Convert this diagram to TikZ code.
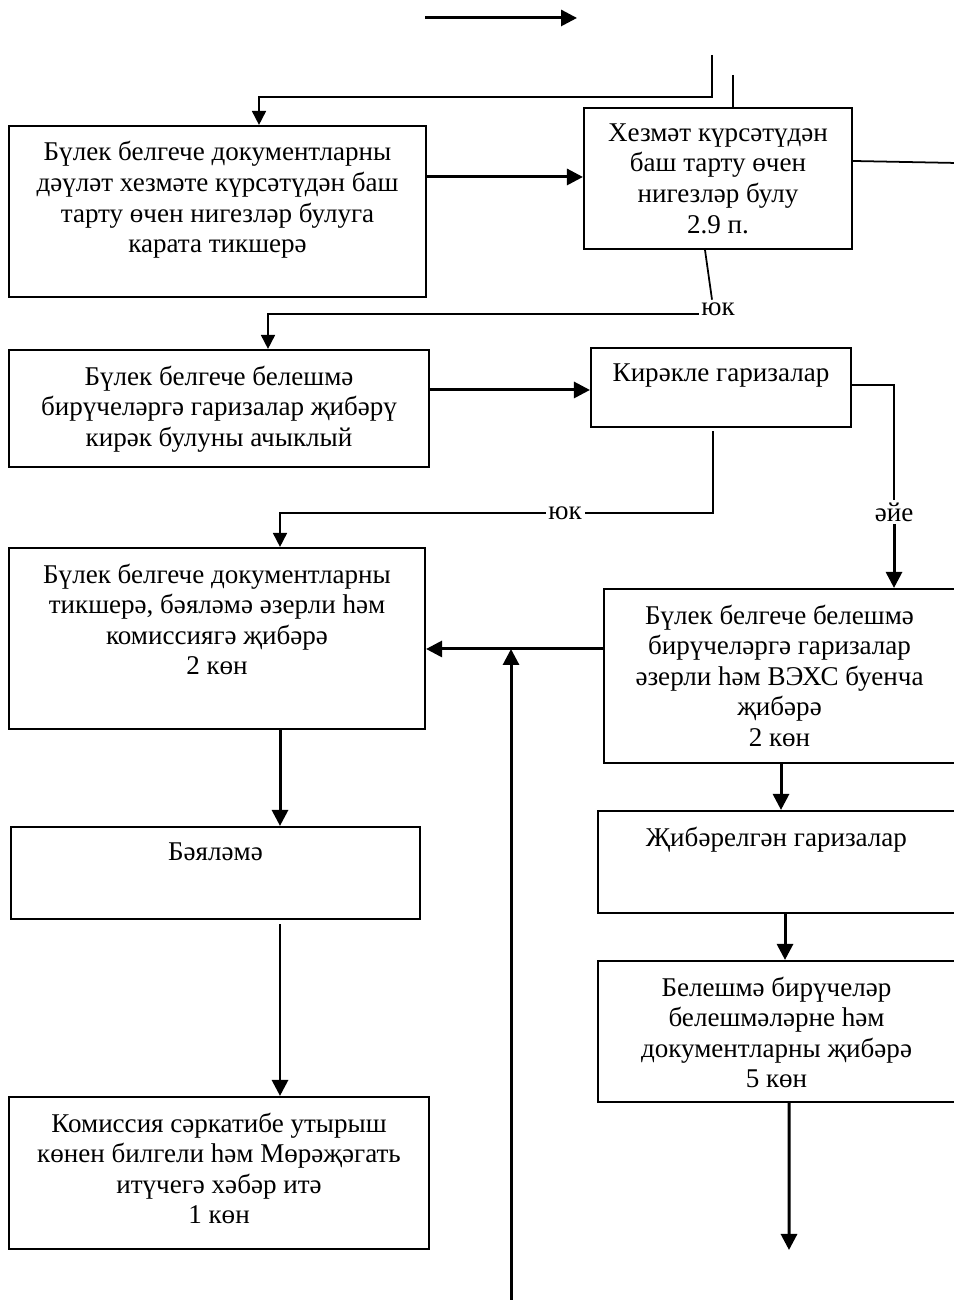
\documentclass[tikz,border=0pt]{standalone}
\usepackage{fontspec}
\setmainfont{Liberation Serif}
\usetikzlibrary{positioning,arrows.meta,calc}

\tikzset{
  box/.style={draw, line width=0.6pt, inner sep=0pt},
  txt/.style={align=center, inner sep=0pt, font=\fontsize{7.7pt}{8.7pt}\selectfont},
  ans/.style={inner sep=0.6pt, font=\fontsize{7.7pt}{8.7pt}\selectfont},
  link/.style={line width=0.5pt},
  lead/.style={line width=0.5pt, -{Triangle[length=1.4mm,width=1.4mm]}},
  flow/.style={line width=0.85pt, -{Triangle[length=1.6mm,width=1.6mm]}}
}

\begin{document}
\begin{tikzpicture}[x=1cm,y=1cm]
\useasboundingbox (0,0) rectangle (9.54,13);

% left column
\node[box, minimum width=4.17cm, minimum height=1.71cm] (a) at (2.175,10.885) {};
\node[txt, below=0.16cm of a.north] (ta) {Бүлек белгече документларны\\дәүләт хезмәте күрсәтүдән баш\\тарту өчен нигезләр булуга\\карата тикшерә};
\node[box, minimum width=4.20cm, minimum height=1.17cm] (c) at (2.19,8.915) {};
\node[txt, below=0.16cm of c.north] (tc) {Бүлек белгече белешмә\\бирүчеләргә гаризалар җибәрү\\кирәк булуны ачыклый};
\node[box, minimum width=4.16cm, minimum height=1.81cm] (e) at (2.17,6.615) {};
\node[txt, below=0.16cm of e.north] (te) {Бүлек белгече документларны\\тикшерә, бәяләмә әзерли һәм\\комиссиягә җибәрә\\2 көн};
\node[box, minimum width=4.09cm, minimum height=0.92cm] (g) at (2.155,4.27) {};
\node[txt, below=0.16cm of g.north] (tg) {Бәяләмә};
\node[box, minimum width=4.20cm, minimum height=1.52cm] (j) at (2.19,1.27) {};
\node[txt, below=0.16cm of j.north] (tj) {Комиссия сәркатибе утырыш\\көнен билгели һәм Мөрәҗәгать\\итүчегә хәбәр итә\\1 көн};

% right column
\node[box, minimum width=2.68cm, minimum height=1.41cm] (b) at (7.18,11.215) {};
\node[txt, below=0.16cm of b.north] (tb) {Хезмәт күрсәтүдән\\баш тарту өчен\\нигезләр булу\\2.9 п.};
\node[box, minimum width=2.60cm, minimum height=0.79cm] (d) at (7.21,9.125) {};
\node[txt, below=0.16cm of d.north] (td) {Кирәкле гаризалар};
\node[box, minimum width=3.51cm, minimum height=1.74cm] (f) at (7.795,6.24) {};
\node[txt, below=0.16cm of f.north] (tf) {Бүлек белгече белешмә\\бирүчеләргә гаризалар\\әзерли һәм ВЭХС буенча\\җибәрә\\2 көн};
\node[box, minimum width=3.57cm, minimum height=1.02cm] (h) at (7.765,4.38) {};
\node[txt, below=0.16cm of h.north] (th) {Җибәрелгән гаризалар};
\node[box, minimum width=3.57cm, minimum height=1.41cm] (i) at (7.765,2.685) {};
\node[txt, below=0.16cm of i.north] (ti) {Белешмә бирүчеләр\\белешмәләрне һәм\\документларны җибәрә\\5 көн};

% answers
\node[ans] (no1) at (7.18,9.91) {юк};
\node[ans] (no2) at (5.65,7.87) {юк};
\node[ans] (yes) at (8.94,7.88) {әйе};

% free ends
\coordinate (in1) at (4.25,12.82);
\coordinate (in2) at (5.77,12.82);
\coordinate (ret) at (7.12,12.45);
\coordinate (retc) at (7.12,12.03);
\coordinate (bin) at (7.33,12.25);
\coordinate (out1) at (9.56,11.37);
\coordinate (bot) at (5.11,0);
\coordinate (out2) at (7.89,0.50);

% connectors
\draw[flow] (in1) -- (in2);
\draw[lead] (ret) -- (retc) -| ([xshift=4.15mm]a.north);
\draw[link] (bin) -- (bin |- b.north);
\draw[flow] ([yshift=3.45mm]a.east) coordinate (p1) -- (p1 -| b.west);
\draw[link] ([yshift=1.75mm]b.east) -- (out1);
\draw[link] ([xshift=-1.3mm]b.south) -- ([xshift=-0.6mm]no1.north);
\draw[lead] ([yshift=-0.5mm]no1.west) -| ([xshift=4.9mm]c.north);
\draw[flow] ([yshift=1.85mm]c.east) coordinate (p2) -- (p2 -| d.west);
\draw[link] ([yshift=0.25mm]d.east) -| (yes.north);
\draw[flow] (yes.south) -- (yes.south |- f.north);
\draw[link] ([xshift=-0.8mm,yshift=-0.3mm]d.south) |- (no2.east);
\draw[lead] (no2.west) -| ([xshift=6.3mm]e.north);
\draw[flow] ([yshift=2.7mm]f.west) coordinate (p3) -- (p3 -| e.east);
\draw[flow] (bot) -- (bot |- p3);
\draw[flow] ([xshift=6.3mm]e.south) coordinate (p4) -- (p4 |- g.north);
\draw[flow] ([xshift=6.45mm,yshift=-0.4mm]g.south) coordinate (p5) -- (p5 |- j.north);
\draw[flow] ([xshift=0.15mm]f.south) coordinate (p6) -- (p6 |- h.north);
\draw[flow] ([xshift=0.85mm]h.south) coordinate (p7) -- (p7 |- i.north);
\draw[flow] ([xshift=1.25mm]i.south) -- (out2);
\end{tikzpicture}
\end{document}
